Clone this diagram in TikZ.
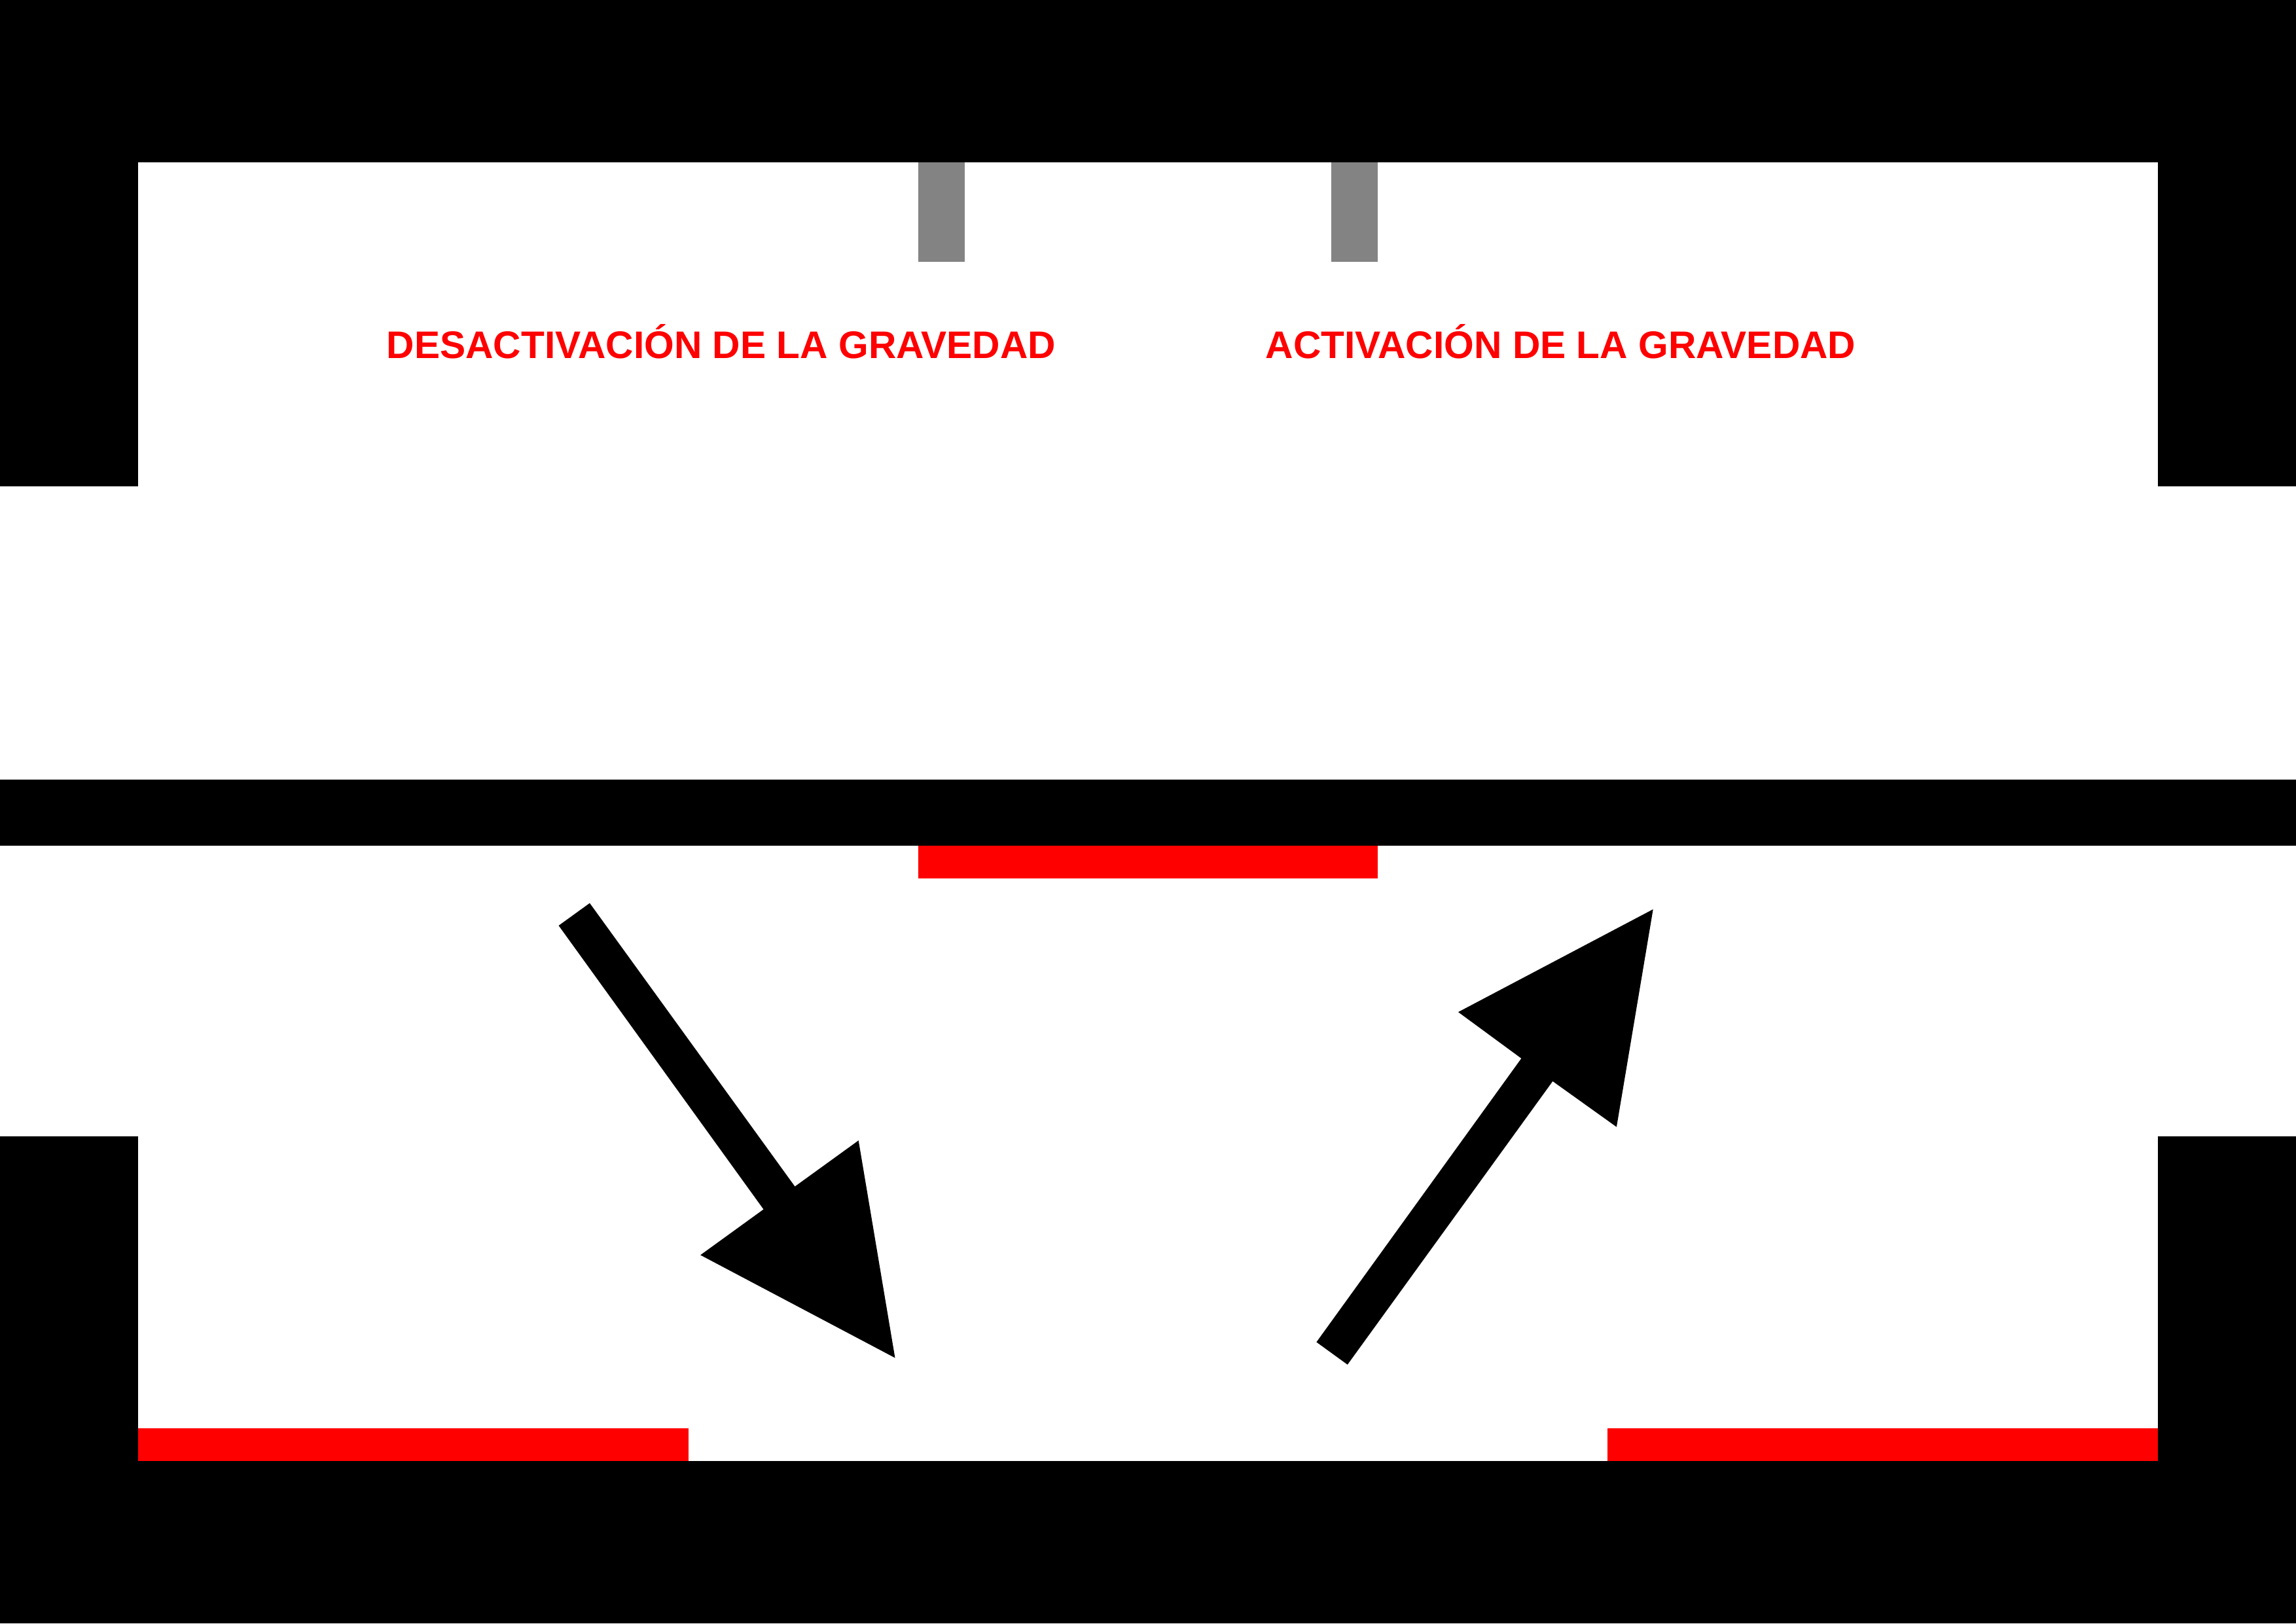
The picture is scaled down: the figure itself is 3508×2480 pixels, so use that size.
\documentclass[tikz,border=0pt]{standalone}
\usepackage{fontspec}
\setmainfont{Liberation Sans}
\definecolor{wallred}{RGB}{255,0,0}
\definecolor{bargray}{RGB}{131,131,131}
\begin{document}
\begin{tikzpicture}[x=0.01cm,y=-0.01cm,
  wall/.style={fill=black,draw=none},
  pad/.style={fill=wallred,draw=none},
  post/.style={fill=bargray,draw=none},
  arrowshape/.style={fill=black,draw=none},
  label/.style={text=wallred,font=\fontsize{16.7}{20}\selectfont\bfseries,inner sep=0pt,anchor=base}]
\useasboundingbox (0,0) rectangle (3508,2480);
\fill[white] (0,0) rectangle (3508,2480);
% top structure
\fill[wall] (0,0) rectangle (3508,248);
\fill[wall] (0,0) rectangle (211,743);
\fill[wall] (3297,0) rectangle (3508,743);
% gray posts
\fill[post] (1403,248) rectangle (1474,400);
\fill[post] (2034,248) rectangle (2105,400);
% middle band
\fill[wall] (0,1191) rectangle (3508,1292);
\fill[pad] (1403,1292) rectangle (2105,1342);
% bottom structure
\fill[wall] (0,1736) rectangle (211,2480);
\fill[wall] (3297,1736) rectangle (3508,2480);
\fill[wall] (0,2232) rectangle (3508,2480);
\fill[pad] (211,2182) rectangle (1052,2232);
\fill[pad] (2456,2182) rectangle (3297,2232);
% arrows
\fill[arrowshape] (853.6,1414) -- (901,1379.7) -- (1214.5,1812.6) -- (1311.7,1742.3)
  -- (1367.5,2074.4) -- (1070.2,1917.3) -- (1166.6,1847.5) -- cycle;
\fill[arrowshape] (2011.4,2050.3) -- (2058.8,2084.7) -- (2372.3,1651.8) -- (2469.9,1721.6)
  -- (2525.7,1389.1) -- (2228,1546.1) -- (2324.4,1616.9) -- cycle;
% labels
\node[label] (off) at (1102,547) {DESACTIVACIÓN DE LA GRAVEDAD};
\node[label] (on) at (2384.5,547) {ACTIVACIÓN DE LA GRAVEDAD};
\end{tikzpicture}
\end{document}
